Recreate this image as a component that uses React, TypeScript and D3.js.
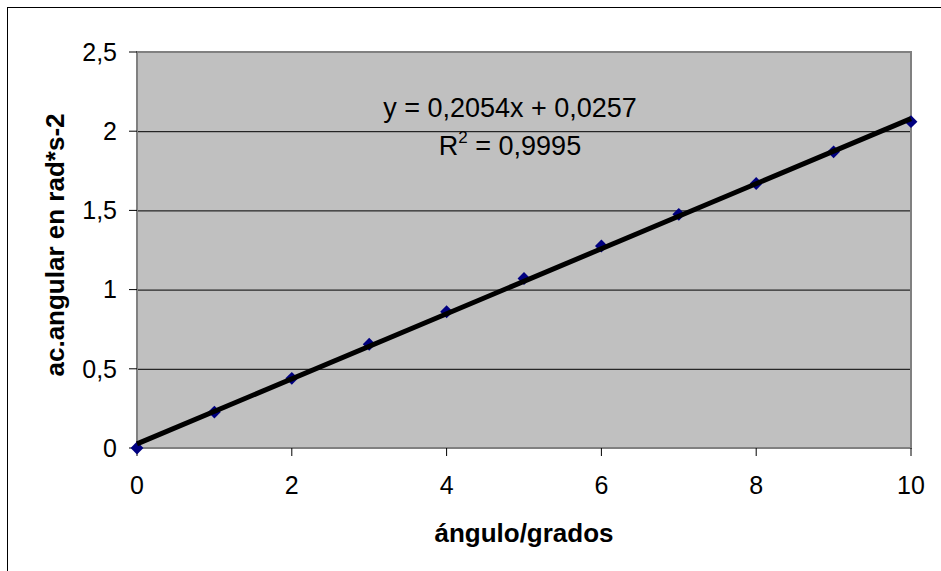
import React from 'react';
import * as d3 from 'd3';

const angles = [0, 1, 2, 3, 4, 5, 6, 7, 8, 9, 10];
const accel = [0, 0.227, 0.44, 0.655, 0.86, 1.07, 1.275, 1.475, 1.67, 1.87, 2.06];
const yTicks = [0, 0.5, 1, 1.5, 2, 2.5];
const xTicks = [0, 2, 4, 6, 8, 10];
const slope = 0.2054;
const intercept = 0.0257;

const App = () => {
  const width = 941;
  const height = 571;
  const left = 137, right = 911, top = 52, bottom = 448;

  const x = d3.scaleLinear().domain([0, 10]).range([left, right]);
  const y = d3.scaleLinear().domain([0, 2.5]).range([bottom, top]);
  const fmt = (v: number) => String(v).replace('.', ',');
  const font = 'Liberation Sans, Arial, sans-serif';
  const diamond = d3.symbol().type(d3.symbolDiamond2).size(105)();

  return (
    <svg width={width} height={height} style={{ position: 'absolute', left: 0, top: 0 }}>
      <rect x={0} y={0} width={width} height={height} fill="#fff" />
      <rect x={7.5} y={7.5} width={960} height={600} fill="none" stroke="#000" strokeWidth={1} />
      <rect x={left} y={top} width={right - left} height={bottom - top} fill="#c0c0c0" />
      {yTicks.filter(t => t > 0 && t < 2.5).map(t => (
        <line key={t} x1={left} x2={right} y1={y(t) + 0.5} y2={y(t) + 0.5} stroke="#000" strokeWidth={1} />
      ))}
      <rect x={left} y={top} width={right - left} height={bottom - top} fill="none" stroke="#808080" strokeWidth={2} />
      {yTicks.map(t => (
        <g key={t}>
          <line x1={left - 8} x2={left} y1={y(t)} y2={y(t)} stroke="#000" strokeWidth={1} />
          <text x={117} y={y(t)} dy="0.35em" textAnchor="end" fontFamily={font} fontSize={25}>{fmt(t)}</text>
        </g>
      ))}
      {xTicks.map(t => (
        <g key={t}>
          <line x1={x(t)} x2={x(t)} y1={bottom} y2={bottom + 8} stroke="#000" strokeWidth={1} />
          <text x={x(t)} y={485} dy="0.35em" textAnchor="middle" fontFamily={font} fontSize={25}>{fmt(t)}</text>
        </g>
      ))}
      {angles.map((a, i) => (
        <path key={a} d={diamond} transform={`translate(${x(a)},${y(accel[i])})`} fill="#000080" />
      ))}
      <line x1={x(0)} y1={y(intercept)} x2={x(10)} y2={y(intercept + slope * 10)} stroke="#000" strokeWidth={5} />
      <text x={510} y={108} dy="0.35em" textAnchor="middle" fontFamily={font} fontSize={27}>y = 0,2054x + 0,0257</text>
      <text x={510} y={146} dy="0.35em" textAnchor="middle" fontFamily={font} fontSize={27}>
        R<tspan dy="-12" fontSize={17}>2</tspan><tspan dy="12"> = 0,9995</tspan>
      </text>
      <text x={524} y={533} dy="0.35em" textAnchor="middle" fontFamily={font} fontSize={26} fontWeight="bold">ángulo/grados</text>
      <text transform={`translate(55,245) rotate(-90)`} dy="0.35em" textAnchor="middle" fontFamily={font} fontSize={26} fontWeight="bold">ac.angular en rad*s-2</text>
    </svg>
  );
};

export default App;
